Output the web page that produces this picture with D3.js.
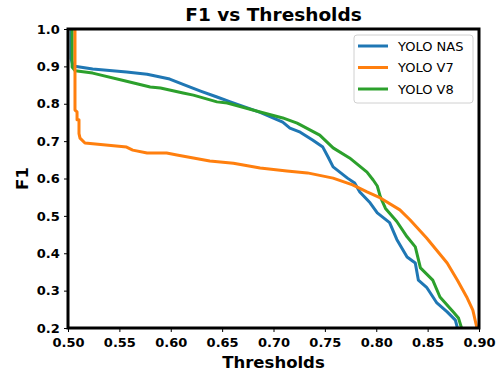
<!DOCTYPE html>
<html>
<head>
<meta charset="utf-8">
<script src="https://cdn.jsdelivr.net/npm/d3@7"></script>
<style>
  body { margin: 0; background: #fff; }
  text { font-family: "DejaVu Sans", sans-serif; }
</style>
</head>
<body>
<div id="chart"></div>
<script>
// Series (threshold, F1)
var nasX = [0.503, 0.503, 0.505, 0.524, 0.557, 0.577, 0.599, 0.612, 0.629, 0.645, 0.658, 0.687, 0.709, 0.716, 0.726, 0.738, 0.748, 0.753, 0.758, 0.772, 0.779, 0.784, 0.794, 0.801, 0.813, 0.820, 0.830, 0.838, 0.841, 0.849, 0.859, 0.869, 0.877, 0.879];
var nasY = [1.0, 0.92, 0.901, 0.893, 0.885, 0.879, 0.866, 0.852, 0.834, 0.818, 0.805, 0.777, 0.751, 0.735, 0.724, 0.703, 0.684, 0.658, 0.631, 0.601, 0.588, 0.564, 0.535, 0.508, 0.482, 0.437, 0.390, 0.374, 0.328, 0.309, 0.267, 0.243, 0.221, 0.2];

var v7X = [0.5068, 0.5068, 0.5088, 0.5088, 0.5107, 0.5107, 0.5117, 0.5165, 0.557, 0.563, 0.577, 0.596, 0.606, 0.638, 0.661, 0.687, 0.713, 0.733, 0.758, 0.777, 0.791, 0.804, 0.823, 0.833, 0.849, 0.869, 0.879, 0.888, 0.894, 0.898];
var v7Y = [1.0, 0.783, 0.778, 0.757, 0.757, 0.72, 0.708, 0.695, 0.684, 0.676, 0.668, 0.668, 0.663, 0.647, 0.641, 0.628, 0.620, 0.615, 0.601, 0.583, 0.564, 0.548, 0.516, 0.489, 0.441, 0.374, 0.328, 0.283, 0.248, 0.2];

var v8X = [0.504, 0.504, 0.507, 0.524, 0.557, 0.580, 0.590, 0.612, 0.622, 0.645, 0.655, 0.687, 0.709, 0.723, 0.745, 0.758, 0.774, 0.791, 0.797, 0.801, 0.804, 0.809, 0.820, 0.830, 0.838, 0.843, 0.855, 0.862, 0.875, 0.880, 0.883];
var v8Y = [1.0, 0.898, 0.888, 0.882, 0.860, 0.845, 0.842, 0.829, 0.823, 0.805, 0.802, 0.778, 0.762, 0.748, 0.716, 0.682, 0.655, 0.617, 0.596, 0.580, 0.551, 0.520, 0.485, 0.444, 0.417, 0.361, 0.328, 0.283, 0.243, 0.227, 0.2];

var seriesNames = ['YOLO NAS', 'YOLO V7', 'YOLO V8'];
var seriesColors = ['#1f77b4', '#ff7f0e', '#2ca02c'];
var xTicks = [0.50, 0.55, 0.60, 0.65, 0.70, 0.75, 0.80, 0.85, 0.90];
var yTicks = [0.2, 0.3, 0.4, 0.5, 0.6, 0.7, 0.8, 0.9, 1.0];

var margin = { left: 68, right: 21, top: 29, bottom: 45 };
var width = 500, height = 373;
var chartWidth = width - margin.left - margin.right;
var chartHeight = height - margin.top - margin.bottom;

var scaleX = d3.scaleLinear().domain([0.5, 0.9]).range([0, chartWidth]);
var scaleY = d3.scaleLinear().domain([0.2, 1.0]).range([chartHeight, 0]);

var svg = d3.select('#chart')
  .append('svg')
  .attr('width', width)
  .attr('height', height);

var group = svg.append('g')
  .attr('transform', 'translate(' + margin.left + ',' + margin.top + ')');

group.append('clipPath').attr('id', 'clip')
  .append('rect')
  .attr('width', chartWidth)
  .attr('height', chartHeight);

// Axes
var axisX = d3.axisBottom(scaleX).tickValues(xTicks).tickFormat(d3.format('.2f')).tickSize(4);
var axisY = d3.axisLeft(scaleY).tickValues(yTicks).tickFormat(d3.format('.1f')).tickSize(4);

var gx = group.append('g')
  .attr('transform', 'translate(0,' + chartHeight + ')')
  .call(axisX);
var gy = group.append('g').call(axisY);

[gx, gy].forEach(function (g) {
  g.select('.domain').remove();
  g.selectAll('text')
    .attr('font-family', 'DejaVu Sans')
    .attr('font-weight', 'bold')
    .attr('font-size', 13)
    .attr('fill', '#000');
  g.selectAll('line').attr('stroke', '#000');
});
gx.selectAll('text').attr('dy', '0.9em');
gy.selectAll('text').attr('dx', '-0.1em');

// Lines
var lineFunc = d3.line()
  .x(function (d) { return scaleX(d[0]); })
  .y(function (d) { return scaleY(d[1]); });

var lines = [d3.zip(nasX, nasY), d3.zip(v7X, v7Y), d3.zip(v8X, v8Y)];
var plot = group.append('g').attr('clip-path', 'url(#clip)');
[0, 2, 1].forEach(function (i) {
  plot.append('path')
    .attr('d', lineFunc(lines[i]))
    .attr('stroke', seriesColors[i])
    .attr('stroke-width', 3)
    .attr('stroke-linejoin', 'round')
    .attr('fill', 'none');
});

// Spines
group.append('rect')
  .attr('width', chartWidth)
  .attr('height', chartHeight)
  .attr('fill', 'none')
  .attr('stroke', '#000')
  .attr('stroke-width', 3);

// Title and labels
svg.append('text')
  .attr('x', margin.left + chartWidth / 2)
  .attr('y', 21)
  .attr('text-anchor', 'middle')
  .attr('font-weight', 'bold')
  .attr('font-size', 18.5)
  .text('F1 vs Thresholds');

svg.append('text')
  .attr('x', margin.left + chartWidth / 2)
  .attr('y', 368)
  .attr('text-anchor', 'middle')
  .attr('font-weight', 'bold')
  .attr('font-size', 16.5)
  .text('Thresholds');

svg.append('text')
  .attr('transform', 'translate(28,' + (margin.top + chartHeight / 2) + ') rotate(-90)')
  .attr('text-anchor', 'middle')
  .attr('font-weight', 'bold')
  .attr('font-size', 16.5)
  .text('F1');

// Legend
var legend = svg.append('g').attr('transform', 'translate(354,35)');
legend.append('rect')
  .attr('width', 119)
  .attr('height', 68)
  .attr('rx', 3)
  .attr('fill', '#fff')
  .attr('fill-opacity', 0.8)
  .attr('stroke', '#d0d0d0');

seriesNames.forEach(function (name, i) {
  var y = 11 + i * 21.5;
  legend.append('line')
    .attr('x1', 4).attr('x2', 34)
    .attr('y1', y).attr('y2', y)
    .attr('stroke', seriesColors[i])
    .attr('stroke-width', 3);
  legend.append('text')
    .attr('x', 44)
    .attr('y', y)
    .attr('dy', '0.35em')
    .attr('font-size', 13)
    .text(name);
});
</script>
</body>
</html>
